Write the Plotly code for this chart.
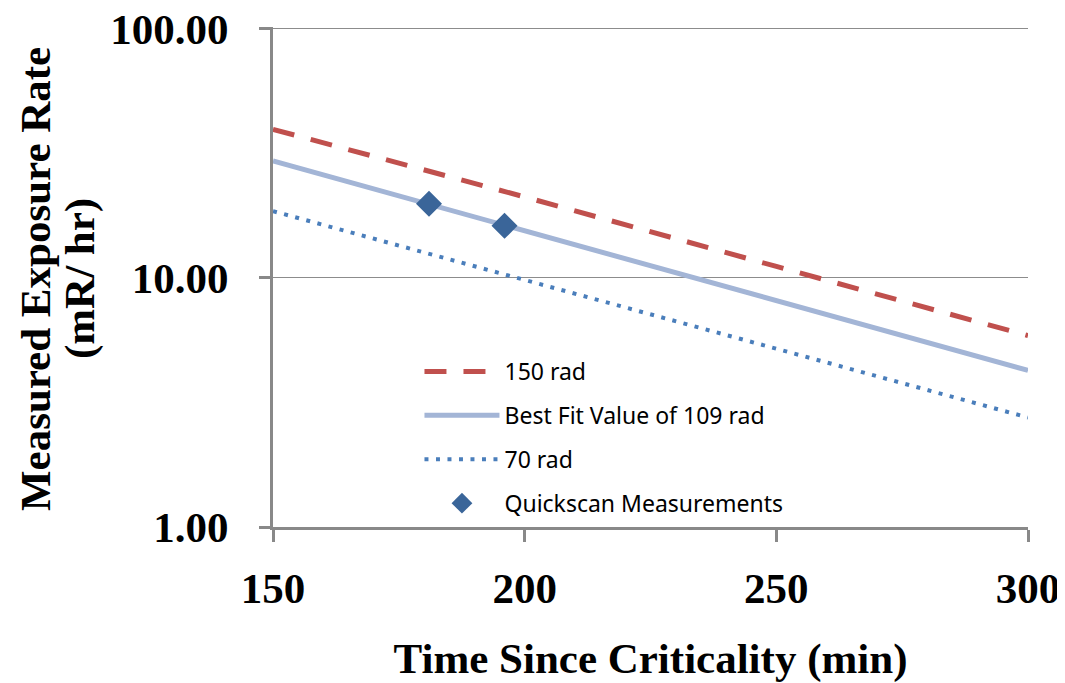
import plotly.graph_objects as go

# Data
time_min = [150, 200, 250, 300]
rate_150rad = [39.4, 21.1, 11.1, 5.86]
rate_bestfit = [29.4, 15.4, 8.09, 4.25]
rate_70rad = [18.5, 9.8, 5.19, 2.75]
meas_time = [181, 196]
meas_rate = [19.8, 16.15]

y_tickvals = [1, 10, 100]
y_ticktext = ["1.00", "10.00", "100.00"]
x_tickvals = [150, 200, 250, 300]
y_title_lines = ["<b>Measured Exposure Rate</b>", "<b>(mR/ hr)</b>"]

fig = go.Figure()
fig.add_trace(go.Scatter(x=time_min, y=rate_150rad, mode="lines", name="150 rad",
                         legendgroup="a",
                         line=dict(color="#C0504D", width=5, dash="22px,17px")))
fig.add_trace(go.Scatter(x=time_min, y=rate_bestfit, mode="lines", name="Best Fit Value of 109 rad",
                         legendgroup="b",
                         line=dict(color="#A3B5D6", width=5)))
fig.add_trace(go.Scatter(x=time_min, y=rate_70rad, mode="lines", name="70 rad",
                         legendgroup="c",
                         line=dict(color="#4A7EBB", width=4, dash="4px,7.5px")))
fig.add_trace(go.Scatter(x=meas_time, y=meas_rate, mode="markers", name="Quickscan Measurements",
                         legendgroup="d",
                         marker=dict(symbol="diamond", size=20, color="#3A6599")))

axis_gray = "#898989"
title_font = dict(family="Liberation Serif", size=43, color="black")
fig.update_layout(
    width=1057, height=675,
    margin=dict(l=265, r=37, t=19, b=156),
    paper_bgcolor="white", plot_bgcolor="white",
    showlegend=True,
    legend=dict(x=0.194, y=0.354, xanchor="left", yanchor="top",
                font=dict(family="Noto Sans", size=23, color="black"),
                bgcolor="rgba(0,0,0,0)", itemwidth=75, tracegroupgap=11),
    xaxis=dict(range=[150, 300], tickvals=x_tickvals, showgrid=False, zeroline=False,
               automargin=False, ticklabeloverflow="allow",
               showline=True, linecolor=axis_gray, linewidth=3,
               ticks="outside", ticklen=12, tickwidth=3, tickcolor=axis_gray,
               ticklabelstandoff=9,
               tickfont=dict(family="Liberation Serif", size=43, color="black", weight="bold"),
               title=dict(text="<b>Time Since Criticality (min)</b>", standoff=36,
                          font=title_font)),
    yaxis=dict(type="log", range=[0, 2.006], tickvals=y_tickvals, ticktext=y_ticktext,
               automargin=False, ticklabeloverflow="allow",
               showgrid=True, gridcolor="#8C8C8C", gridwidth=1, zeroline=False,
               showline=True, linecolor=axis_gray, linewidth=3,
               ticks="outside", ticklen=11, tickwidth=3, tickcolor=axis_gray,
               ticklabelstandoff=22,
               tickfont=dict(family="Liberation Serif", size=43, color="black", weight="bold")),
    annotations=[
        dict(text=y_title_lines[0], xref="paper", yref="paper", x=-0.3152, y=0.496,
             xanchor="center", yanchor="middle", textangle=-90, showarrow=False,
             font=title_font),
        dict(text=y_title_lines[1], xref="paper", yref="paper", x=-0.2556, y=0.496,
             xanchor="center", yanchor="middle", textangle=-90, showarrow=False,
             font=title_font),
    ],
)
fig.write_html("out.html")
